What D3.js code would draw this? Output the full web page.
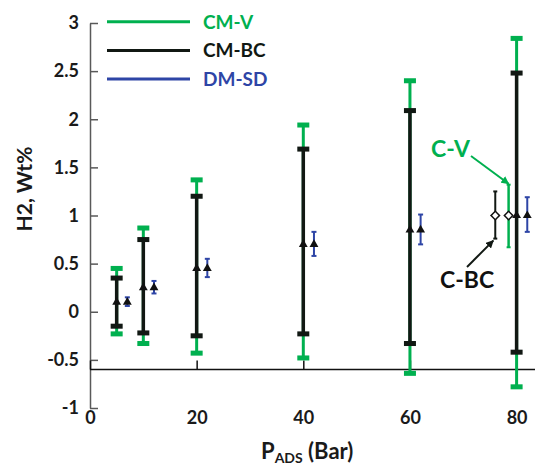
<!DOCTYPE html>
<html>
<head>
<meta charset="utf-8">
<script src="https://cdn.jsdelivr.net/npm/d3@7"></script>
<style>
  body { margin: 0; background: #fff; }
  svg { display: block; font-family: Lato, "Open Sans", sans-serif; font-weight: bold; }
</style>
</head>
<body>
<svg id="chart" width="535" height="468"></svg>
<script>
// pressure (bar) and the shared mean
var press = [5, 10, 20, 40, 60, 80];
var mean = [0.10, 0.25, 0.45, 0.70, 0.85, 1.00];

// CM-V range
var cmvHi = [0.45, 0.87, 1.37, 1.94, 2.40, 2.84];
var cmvLo = [-0.23, -0.33, -0.43, -0.48, -0.64, -0.78];

// CM-BC range
var cmbcHi = [0.35, 0.75, 1.20, 1.69, 2.09, 2.48];
var cmbcLo = [-0.15, -0.22, -0.25, -0.23, -0.33, -0.42];

// DM-SD, plotted a little to the right
var dmsdX = [7, 12, 22, 42, 62, 82];
var dmsdHi = [0.15, 0.32, 0.55, 0.83, 1.01, 1.19];
var dmsdLo = [0.06, 0.19, 0.36, 0.58, 0.70, 0.83];

// single points C-BC and C-V
var spotName = ["C-BC", "C-V"];
var spotX = [76, 78.5];
var spotMid = [1.0, 1.0];
var spotHi = [1.25, 1.32];
var spotLo = [0.76, 0.67];

var yTicks = [-1, -0.5, 0, 0.5, 1, 1.5, 2, 2.5, 3];
var xTicks = [0, 20, 40, 60, 80];

var legendNames = ["CM-V", "CM-BC", "DM-SD"];

var green = "#00b04f", black = "#111813", blue = "#2e45a6";

var svg = d3.select("#chart");

var x = d3.scaleLinear().domain([0, 80]).range([90, 516.6]);
var y = d3.scaleLinear().domain([-1, 3]).range([408, 23]);

// y axis, ticks pointing inwards
var yAxis = d3.axisLeft(y)
	.tickValues(yTicks)
	.tickSizeInner(-8)
	.tickSizeOuter(0)
	.tickPadding(11)
	.tickFormat(function (d) { return String(d); });

var gy = svg.append("g")
	.attr("transform", "translate(" + x(0) + ",0)")
	.call(yAxis);
gy.select(".domain").attr("stroke", "#595959").attr("stroke-width", 1.5);
gy.selectAll(".tick line").attr("stroke", "#595959").attr("stroke-width", 1.5);
gy.selectAll(".tick text")
	.attr("fill", "#1a1a1a")
	.style("font-size", "18px")
	.style("font-family", "Lato, sans-serif")
	.style("font-weight", "bold");

// x axis crosses at -0.6
var xAxis = d3.axisBottom(x)
	.tickValues(xTicks)
	.tickSizeInner(-9)
	.tickSizeOuter(0)
	.tickPadding(42)
	.tickFormat(function (d) { return String(d); });

var gx = svg.append("g")
	.attr("transform", "translate(0," + y(-0.6) + ")")
	.call(xAxis);
gx.select(".domain").remove();
gx.append("line")
	.attr("x1", x(0)).attr("x2", 535)
	.attr("y1", 0).attr("y2", 0)
	.attr("stroke", "#111").attr("stroke-width", 1.5);
gx.selectAll(".tick line").attr("stroke", "#111").attr("stroke-width", 1.5);
gx.selectAll(".tick text")
	.attr("fill", "#1a1a1a")
	.style("font-size", "18px")
	.style("font-family", "Lato, sans-serif")
	.style("font-weight", "bold");

// axis titles
svg.append("text")
	.attr("transform", "translate(32,189) rotate(-90)")
	.attr("text-anchor", "middle")
	.attr("fill", "#1a1a1a")
	.style("font-size", "21px")
	.text("H2, Wt%");

var xt = svg.append("text")
	.attr("x", 261).attr("y", 459)
	.attr("fill", "#1a1a1a")
	.style("font-size", "22px");
xt.append("tspan").text("P");
xt.append("tspan").attr("dy", 4).style("font-size", "14px").text("ADS");
xt.append("tspan").attr("dy", -4).text(" (Bar)");

// error bars
function errBars (xs, lo, hi, color, lw, capW, capH) {
	var g = svg.append("g");
	g.selectAll("line").data(xs).join("line")
		.attr("x1", function (d) { return x(d); })
		.attr("x2", function (d) { return x(d); })
		.attr("y1", function (d, i) { return y(lo[i]); })
		.attr("y2", function (d, i) { return y(hi[i]); })
		.attr("stroke", color).attr("stroke-width", lw);
	[lo, hi].forEach(function (arr) {
		g.selectAll(null).data(xs).join("rect")
			.attr("x", function (d) { return x(d) - capW / 2; })
			.attr("y", function (d, i) { return y(arr[i]) - capH / 2; })
			.attr("width", capW).attr("height", capH)
			.attr("fill", color);
	});
}

errBars(press, cmvLo, cmvHi, green, 3, 12, 5);
errBars(press, cmbcLo, cmbcHi, black, 3.5, 12, 5);
errBars(dmsdX, dmsdLo, dmsdHi, blue, 2, 5, 2);
errBars([spotX[0]], [spotLo[0]], [spotHi[0]], black, 2, 4, 2);
errBars([spotX[1]], [spotLo[1]], [spotHi[1]], green, 2.5, 4, 2);

// triangle markers
var tri = d3.symbol().type(d3.symbolTriangle).size(34);
svg.append("g").selectAll("path").data(press).join("path")
	.attr("d", tri)
	.attr("transform", function (d, i) { return "translate(" + x(d) + "," + y(mean[i]) + ")"; })
	.attr("fill", "#111");
svg.append("g").selectAll("path").data(dmsdX).join("path")
	.attr("d", tri)
	.attr("transform", function (d, i) { return "translate(" + x(d) + "," + y(mean[i]) + ")"; })
	.attr("fill", "#111");

// hollow diamonds
var dia = d3.symbol().type(d3.symbolSquare).size(36);
svg.append("g").selectAll("path").data(spotX).join("path")
	.attr("d", dia)
	.attr("transform", function (d, i) { return "translate(" + x(d) + "," + y(spotMid[i]) + ") rotate(45)"; })
	.attr("fill", "#fff").attr("stroke", "#111").attr("stroke-width", 1.5);

// arrows
var defs = svg.append("defs");
[["headG", green], ["headB", black]].forEach(function (m) {
	defs.append("marker")
		.attr("id", m[0])
		.attr("viewBox", "0 0 10 10")
		.attr("refX", 9).attr("refY", 5)
		.attr("markerWidth", 4).attr("markerHeight", 4)
		.attr("orient", "auto")
		.append("path").attr("d", "M0,0L10,5L0,10z").attr("fill", m[1]);
});

svg.append("line")
	.attr("x1", 471).attr("y1", 156)
	.attr("x2", x(spotX[1])).attr("y2", y(spotHi[1]) - 1)
	.attr("stroke", green).attr("stroke-width", 2)
	.attr("marker-end", "url(#headG)");
svg.append("line")
	.attr("x1", 467).attr("y1", 267)
	.attr("x2", x(spotX[0]) - 2).attr("y2", y(spotLo[0]) + 2)
	.attr("stroke", black).attr("stroke-width", 2)
	.attr("marker-end", "url(#headB)");

svg.append("text")
	.attr("x", 431).attr("y", 157)
	.attr("fill", green)
	.style("font-size", "23px")
	.text(spotName[1]);
svg.append("text")
	.attr("x", 440).attr("y", 288)
	.attr("fill", "#111")
	.style("font-size", "23px")
	.text(spotName[0]);

// legend
var legColors = [green, black, blue];
var leg = svg.append("g").selectAll("g").data(legendNames).join("g")
	.attr("transform", function (d, i) { return "translate(107," + (21.7 + i * 28.7) + ")"; });
leg.append("line")
	.attr("x1", 0).attr("x2", 83)
	.attr("stroke", function (d, i) { return legColors[i]; })
	.attr("stroke-width", 3);
leg.append("text")
	.attr("x", 96).attr("dy", "0.36em")
	.attr("fill", function (d, i) { return legColors[i]; })
	.style("font-size", "19px")
	.text(function (d) { return d; });
</script>
</body>
</html>
